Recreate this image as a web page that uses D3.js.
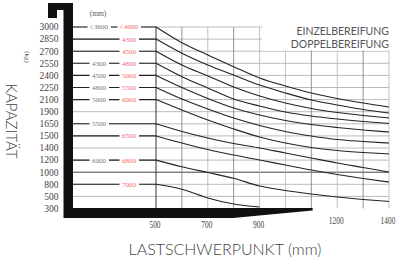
<!DOCTYPE html>
<html><head><meta charset="utf-8">
<script src="https://cdn.jsdelivr.net/npm/d3@7"></script>
<style>body{margin:0;background:#fff}svg{display:block}</style>
</head><body>
<svg id="c" width="397" height="260"></svg>
<script>
// ---- data ----
const rowValues = [3000,2850,2700,2550,2400,2250,2100,1900,1650,1500,1400,1200,1000,800,500,300];
const gridX = [500,600,700,800,900,1000,1100,1200,1300,1400];
const xTicks = [500,700,900,1200,1400];
const loadCenters = [500,600,700,800,900,1000,1100,1200,1300,1400];
const cap3000 = [3000,2805,2653,2508,2368,2269,2182,2114,2044,1978];
const cap2850 = [2850,2675,2529,2405,2281,2182,2093,2011,1936,1873];
const cap2700 = [2700,2529,2393,2256,2145,2044,1953,1884,1822,1770];
const cap2550 = [2550,2384,2244,2107,1994,1894,1811,1749,1698,1656];
const cap2400 = [2400,2250,2114,1961,1832,1718,1641,1604,1573,1548];
const cap2250 = [2250,2107,1945,1770,1629,1555,1499,1470,1454,1441];
const cap2100 = [2100,1928,1729,1586,1491,1441,1404,1359,1326,1301];
const cap1650 = [1650,1555,1483,1437,1400,1317,1235,1152,1078,1003];
const cap1500 = [1500,1441,1375,1284,1202,1119,1036,962,896,838];
const cap1200 = [1200,1091,995,899,758,646,559,490,449,416];
const cap800  = [800,676,474,374,325];
const seriesList = [cap3000,cap2850,cap2700,cap2550,cap2400,cap2250,cap2100,cap1650,cap1500,cap1200,cap800];
const einzelRows = [3000,2550,2400,2250,2100,1650,1200];
const einzelText = ["\u22643600","4300","4500","4800","5000","5500","6000"];
const doppelRows = [3000,2850,2700,2550,2400,2250,2100,1500,1200,800];
const doppelText = ["\u22644000","4300","4500","4800","5000","5500","6000","6500","6800","7000"];
const darkRows = [1000];
const darkCols = [600,800,1100,1300];

// ---- layout ----
const svg = d3.select("#c");
const x = d3.scaleLinear().domain([500,1400]).range([156,389]);
const y = d3.scaleLinear().domain(rowValues).range(rowValues.map((d,i)=>27+i*12.1));
const leftX = 73;
const serif = "'Liberation Serif','DejaVu Serif',serif";
const sans = "Lato,'Open Sans',sans-serif";

// grid horizontal
svg.append("g").selectAll("line").data(rowValues.slice(0,-1)).join("line")
  .attr("x1",leftX).attr("x2",x(1400))
  .attr("y1",d=>y(d)).attr("y2",d=>y(d))
  .attr("stroke",d=>darkRows.includes(d)?"#444":"#aaa")
  .attr("stroke-width",d=>darkRows.includes(d)?1:0.8);
// grid vertical
svg.append("g").selectAll("line").data(gridX).join("line")
  .attr("x1",d=>x(d)).attr("x2",d=>x(d))
  .attr("y1",y(3000)).attr("y2",y(300))
  .attr("stroke",d=>d===500?"#333":(darkCols.includes(d)?"#777":"#b5b5b5"))
  .attr("stroke-width",d=>d===500?1:0.8);

// left segments for each curve row
const curveRows = seriesList.map(s=>s[0]);
svg.append("g").selectAll("line").data(curveRows).join("line")
  .attr("x1",leftX).attr("x2",x(500))
  .attr("y1",d=>y(d)).attr("y2",d=>y(d))
  .attr("stroke","#222").attr("stroke-width",1.1);

// curves
const line = d3.line().x(d=>x(d[0])).y(d=>y(d[1])).curve(d3.curveMonotoneX);
svg.append("g").selectAll("path").data(seriesList).join("path")
  .attr("d",s=>line(s.map((v,i)=>[loadCenters[i],v])))
  .attr("fill","none").attr("stroke","#222").attr("stroke-width",1.1);

// row labels (mast heights)
function rowLabels(rows, texts, cx, color){
  const g = svg.append("g");
  rows.forEach((r,i)=>{
    const t = g.append("text").attr("x",cx).attr("y",y(r)+2.4)
      .attr("text-anchor","middle").attr("font-family",serif).attr("font-size",7)
      .attr("fill",color).text(texts[i]);
    const bb = t.node().getBBox();
    g.insert("rect","text").attr("x",bb.x-2.5).attr("y",y(r)-2).attr("width",bb.width+5).attr("height",4).attr("fill","#fff");
  });
}
rowLabels(einzelRows, einzelText, 99, "#777");
rowLabels(doppelRows, doppelText, 129, "#f06a6a");

// legend
svg.append("rect").attr("x",262).attr("y",19).attr("width",135).attr("height",y(2700)-19-0.6).attr("fill","#fff");
svg.append("text").attr("x",389).attr("y",35).attr("text-anchor","end")
  .attr("font-family",sans).attr("font-size",10.5).attr("fill","#555").text("EINZELBEREIFUNG");
svg.append("text").attr("x",389).attr("y",47.5).attr("text-anchor","end")
  .attr("font-family",sans).attr("font-size",10.5).attr("fill","#555").text("DOPPELBEREIFUNG");

// fork shape
const yb0 = y(300)-0.5, yb1 = y(300)+9.5;
svg.append("path")
  .attr("d",`M48,3 H73 V${yb0} H${x(1105)} V${yb0+2.5} L${x(797)},${yb1} H63.5 V10 H57 V18 H48 Z`)
  .attr("fill","#111");

// y tick labels
svg.append("g").selectAll("text").data(rowValues).join("text")
  .attr("x",58.5).attr("y",d=>y(d)+3.3).attr("text-anchor","end")
  .attr("font-family",serif).attr("font-size",9.5).attr("fill","#444").text(d=>d);
// x tick labels
svg.append("g").selectAll("text").data(xTicks).join("text")
  .attr("transform",d=>`translate(${x(d)-1},${d>1000?224:227.5}) scale(0.78,1)`)
  .attr("text-anchor","middle")
  .attr("font-family",serif).attr("font-size",9.5).attr("fill","#444").text(d=>d);

// units
svg.append("text").attr("x",98).attr("y",16).attr("text-anchor","middle")
  .attr("font-family",serif).attr("font-size",7.5).attr("fill","#555").text("(mm)");
svg.append("text").attr("transform",`translate(24.5,57) rotate(90)`).attr("text-anchor","middle")
  .attr("font-family",serif).attr("font-size",7).attr("fill","#555").text("(kg)");

// axis titles
svg.append("text").attr("transform",`translate(6,121) rotate(90)`).attr("text-anchor","middle")
  .attr("font-family",sans).attr("font-weight",300).attr("font-size",15).attr("fill","#444").text("KAPAZITÄT");
svg.append("text").attr("x",225).attr("y",255).attr("text-anchor","middle")
  .attr("font-family",sans).attr("font-weight",300).attr("font-size",16).attr("fill","#444").text("LASTSCHWERPUNKT (mm)");
</script>
</body></html>
